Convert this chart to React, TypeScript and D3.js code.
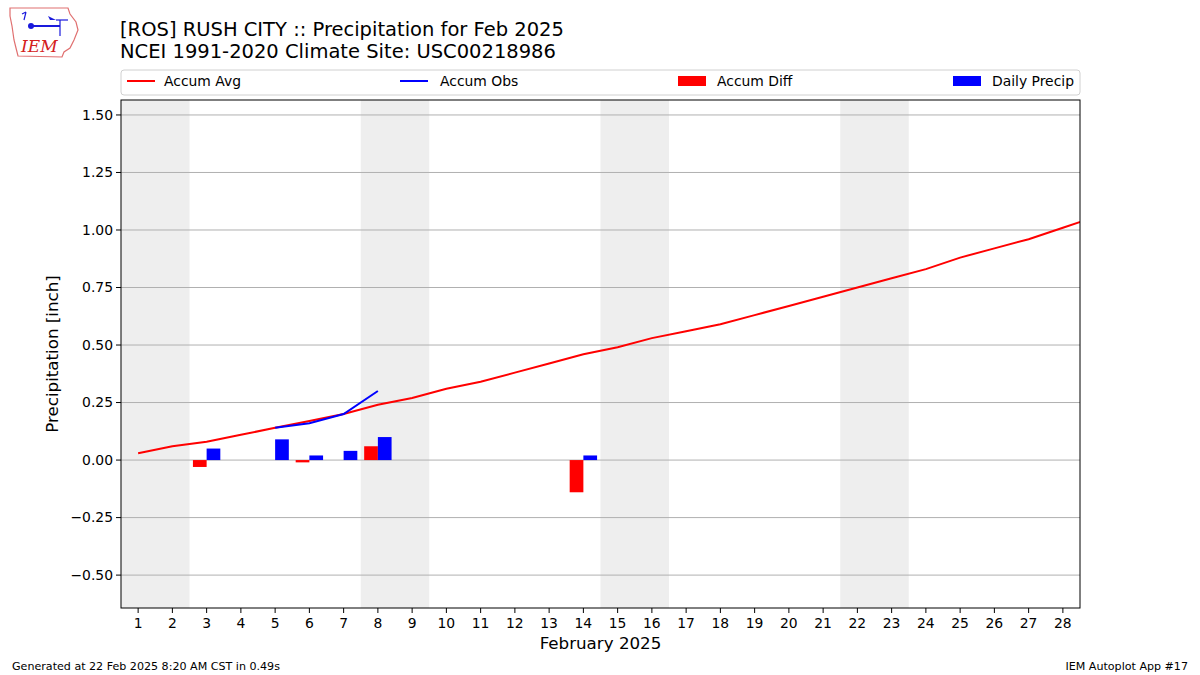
import * as d3 from "d3";

// chart data
const days = d3.range(1, 29);
const avgDays = d3.range(1, 30);
const accumAvg = [0.03, 0.06, 0.08, 0.11, 0.14, 0.17, 0.2, 0.24, 0.27, 0.31, 0.34, 0.38, 0.42, 0.46, 0.49, 0.53, 0.56, 0.59, 0.63, 0.67, 0.71, 0.75, 0.79, 0.83, 0.88, 0.92, 0.96, 1.01, 1.06];
const obsDays = [5, 6, 7, 8];
const accumObs = [0.14, 0.16, 0.2, 0.3];
const precipDays = [3, 5, 6, 7, 8, 14];
const dailyPrecip = [0.05, 0.09, 0.02, 0.04, 0.1, 0.02];
const diffDays = [3, 6, 8, 14];
const accumDiff = [-0.03, -0.01, 0.06, -0.14];
const weekends = [[1, 2], [8, 9], [15, 16], [22, 23]];
const yTicks = [-0.5, -0.25, 0, 0.25, 0.5, 0.75, 1.0, 1.25, 1.5];

const W = 1200;
const H = 675;
const m = { left: 121, right: 1080, top: 100, bottom: 608 };
const font = "DejaVu Sans, sans-serif";

export default function App() {
  const x = d3.scaleLinear().domain([0.5, 28.5]).range([m.left, m.right]);
  const y = d3.scaleLinear().domain([-0.643, 1.565]).range([m.bottom, m.top]);
  const bw = x(1.4) - x(1);

  const avgLine = d3.line<number>().x((_, i) => x(avgDays[i])).y((d) => y(d))(accumAvg) || "";
  const obsLine = d3.line<number>().x((_, i) => x(obsDays[i])).y((d) => y(d))(accumObs) || "";
  const fmt = (v: number) => (v < 0 ? "\u2212" + Math.abs(v).toFixed(2) : v.toFixed(2));

  return (
    <svg width={W} height={H} style={{ position: "absolute", left: 0, top: 0 }} fontFamily={font}>
      <rect width={W} height={H} fill="#fff" />
      <defs>
        <clipPath id="plot">
          <rect x={m.left} y={m.top} width={m.right - m.left} height={m.bottom - m.top} />
        </clipPath>
      </defs>

      {/* logo */}
      <g>
        <path d="M10,8 L68,8 L70,14 L76,22 L78,30 L74,40 L70,48 L64,52 L62,57 L18,56 L16,48 L14,40 L12,26 L10,16 Z" fill="none" stroke="#e07070" strokeWidth={1.2} />
        <line x1={31} y1={26} x2={60} y2={26} stroke="#1a1adc" strokeWidth={2} />
        <circle cx={31} cy={26} r={3} fill="#1a1adc" />
        <path d="M24,20 L26,12 M22,14 L26,12" stroke="#1a1adc" strokeWidth={1.2} fill="none" />
        <path d="M48,16 L56,20 L50,20 Z" fill="#1a1adc" />
        <line x1={60} y1={20} x2={60} y2={36} stroke="#1a1adc" strokeWidth={1.2} />
        <line x1={56} y1={20} x2={68} y2={20} stroke="#1a1adc" strokeWidth={1.2} />
        <text x={21} y={52} fill="#d42020" fontFamily="DejaVu Serif, serif" fontStyle="italic" fontSize={17}>IEM</text>
      </g>

      {/* title */}
      <text x={120} y={36} fontSize={19.5}>[ROS] RUSH CITY :: Precipitation for Feb 2025</text>
      <text x={120} y={58} fontSize={19.5}>NCEI 1991-2020 Climate Site: USC00218986</text>

      {/* legend */}
      <rect x={121} y={70} width={959} height={25} rx={3} fill="#fff" stroke="#d0d0d0" />
      <line x1={127} x2={155} y1={81} y2={81} stroke="red" strokeWidth={2} />
      <text x={164} y={86} fontSize={13.9}>Accum Avg</text>
      <line x1={400} x2={428} y1={81} y2={81} stroke="blue" strokeWidth={2} />
      <text x={440} y={86} fontSize={13.9}>Accum Obs</text>
      <rect x={678} y={76} width={28} height={10} fill="red" />
      <text x={717} y={86} fontSize={13.9}>Accum Diff</text>
      <rect x={953} y={76} width={28} height={10} fill="blue" />
      <text x={992} y={86} fontSize={13.9}>Daily Precip</text>

      {/* weekend shading */}
      {weekends.map(([a, b]) => (
        <rect key={a} x={x(a - 0.5)} y={m.top} width={x(b + 0.5) - x(a - 0.5)} height={m.bottom - m.top} fill="#eeeeee" />
      ))}

      {/* grid */}
      {yTicks.map((t) => (
        <line key={t} x1={m.left} x2={m.right} y1={y(t)} y2={y(t)} stroke="#b0b0b0" strokeWidth={1} />
      ))}

      <g clipPath="url(#plot)">
        {diffDays.map((d, i) => (
          <rect key={"d" + d} x={x(d - 0.4)} width={bw} y={y(Math.max(0, accumDiff[i]))} height={Math.abs(y(accumDiff[i]) - y(0))} fill="red" />
        ))}
        {precipDays.map((d, i) => (
          <rect key={"p" + d} x={x(d)} width={bw} y={y(dailyPrecip[i])} height={y(0) - y(dailyPrecip[i])} fill="blue" />
        ))}
        <path d={avgLine} fill="none" stroke="red" strokeWidth={2} />
        <path d={obsLine} fill="none" stroke="blue" strokeWidth={2} />
      </g>

      {/* frame */}
      <rect x={m.left} y={m.top} width={m.right - m.left} height={m.bottom - m.top} fill="none" stroke="#000" strokeWidth={1} />

      {/* y axis */}
      {yTicks.map((t) => (
        <g key={t}>
          <line x1={m.left - 5} x2={m.left} y1={y(t)} y2={y(t)} stroke="#000" />
          <text x={m.left - 8} y={y(t)} dy="0.35em" textAnchor="end" fontSize={13.9}>{fmt(t)}</text>
        </g>
      ))}
      <text transform={`translate(58,${(m.top + m.bottom) / 2}) rotate(-90)`} textAnchor="middle" fontSize={16.7}>Precipitation [inch]</text>

      {/* x axis */}
      {days.map((d) => (
        <g key={d}>
          <line x1={x(d)} x2={x(d)} y1={m.bottom} y2={m.bottom + 5} stroke="#000" />
          <text x={x(d)} y={m.bottom + 20} textAnchor="middle" fontSize={13.9}>{d}</text>
        </g>
      ))}
      <text x={(m.left + m.right) / 2} y={649} textAnchor="middle" fontSize={16.7}>February 2025</text>

      {/* footer */}
      <text x={12} y={670} fontSize={11.1}>Generated at 22 Feb 2025 8:20 AM CST in 0.49s</text>
      <text x={1188} y={670} textAnchor="end" fontSize={11.1}>IEM Autoplot App #17</text>
    </svg>
  );
}
